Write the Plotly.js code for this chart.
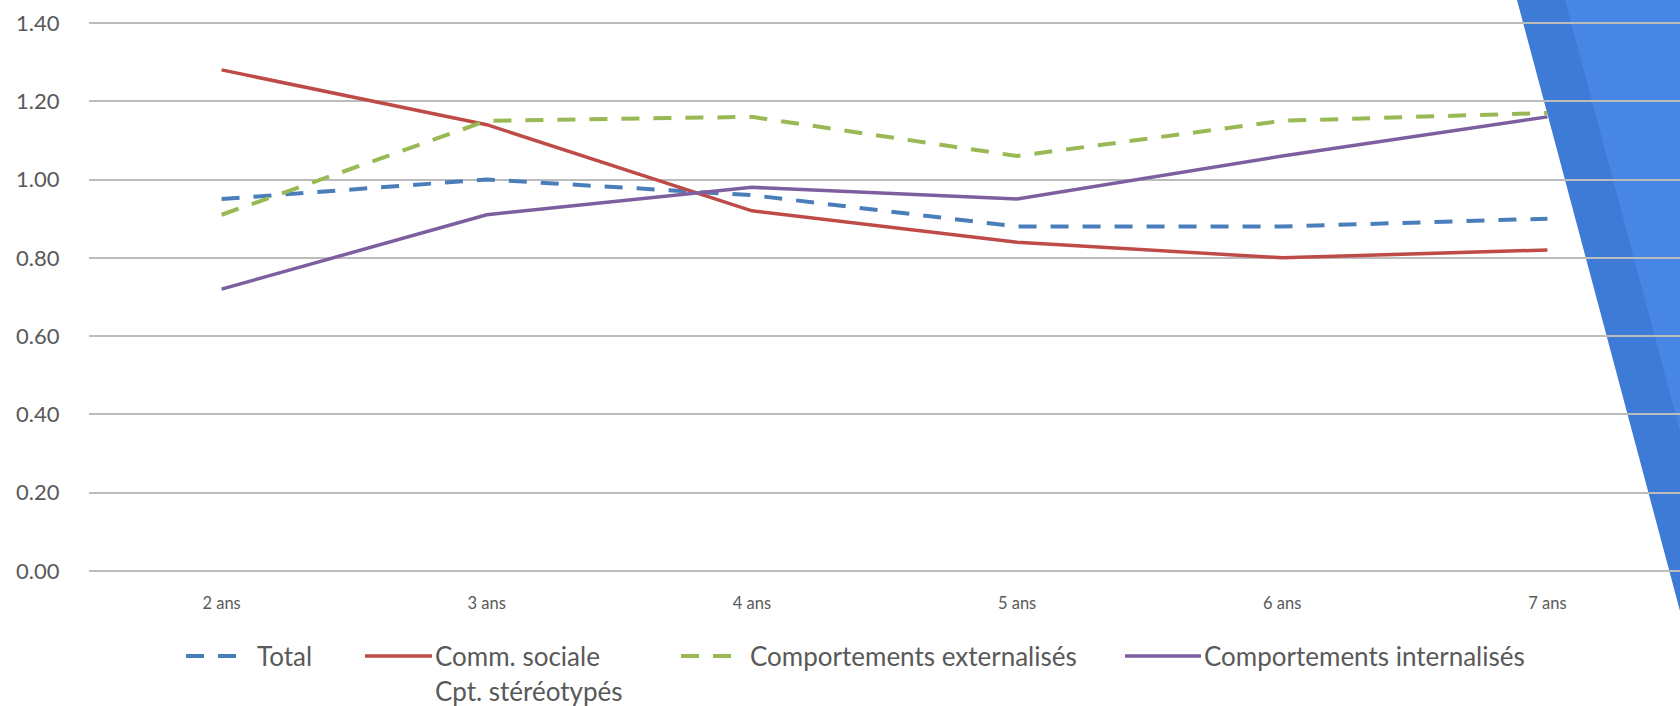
<!DOCTYPE html>
<html>
<head>
<meta charset="utf-8">
<script src="https://cdn.plot.ly/plotly-3.0.1.min.js"></script>
<style>
  html, body { margin: 0; padding: 0; background: #ffffff; }
  #chart { width: 1680px; height: 706px; }
</style>
</head>
<body>
<div id="chart"></div>
<script>
// ---- Data ----
const categories = ["2 ans", "3 ans", "4 ans", "5 ans", "6 ans", "7 ans"];
const seriesNames = ["Total", "Comm. sociale<br>Cpt. stéréotypés", "Comportements externalisés", "Comportements internalisés"];
const total        = [0.95, 1.00, 0.96, 0.88, 0.88, 0.90];
const commSociale  = [1.28, 1.14, 0.92, 0.84, 0.80, 0.82];
const externalises = [0.91, 1.15, 1.16, 1.06, 1.15, 1.17];
const internalises = [0.72, 0.91, 0.98, 0.95, 1.06, 1.16];
const yTicks = [0.0, 0.2, 0.4, 0.6, 0.8, 1.0, 1.2, 1.4];

// ---- Styles ----
const W = 1680, H = 706;
const M = { l: 89, r: 0, t: 19, b: 135 };
const PW = W - M.l - M.r, PH = H - M.t - M.b;
const px = x => (x - M.l) / PW;
const py = y => (H - M.b - y) / PH;

const styles = [
  { color: "#4a7ebb", dash: "18px,14px", width: 4 },
  { color: "#be4b48", dash: "solid",     width: 3.5 },
  { color: "#98b954", dash: "18px,14px", width: 4 },
  { color: "#7d5fa0", dash: "solid",     width: 3.5 }
];
const values = [total, commSociale, externalises, internalises];

const traces = values.map((v, i) => ({
  type: "scatter",
  mode: "lines",
  x: categories,
  y: v,
  name: seriesNames[i],
  line: { color: styles[i].color, dash: styles[i].dash, width: styles[i].width },
  showlegend: false,
  hoverinfo: "x+y+name"
}));

const font = "Lato, 'Open Sans', sans-serif";
const textColor = "#595959";

// Decorative blue slide shapes (right side)
const shapes = [
  { type: "path", xref: "paper", yref: "paper", layer: "below",
    path: `M ${px(1517)} ${py(0)} L ${px(1680)} ${py(0)} L ${px(1680)} ${py(611)} Z`,
    fillcolor: "#3e7bd6", line: { width: 0 } },
  { type: "path", xref: "paper", yref: "paper", layer: "below",
    path: `M ${px(1565)} ${py(0)} L ${px(1680)} ${py(0)} L ${px(1680)} ${py(431)} Z`,
    fillcolor: "#4886e6", line: { width: 0 } }
];

// Custom legend (Excel-like layout)
const legendRowY = 656;
const legendItems = [
  { sym: [186, 239], textX: 255 },
  { sym: [365, 432], textX: 433 },
  { sym: [681, 734], textX: 748 },
  { sym: [1125, 1201], textX: 1202 }
];
const annotations = [];
legendItems.forEach((it, i) => {
  shapes.push({
    type: "line", xref: "paper", yref: "paper",
    x0: px(it.sym[0]), x1: px(it.sym[1]), y0: py(legendRowY), y1: py(legendRowY),
    line: { color: styles[i].color, width: styles[i].width, dash: styles[i].dash }
  });
  const lines = seriesNames[i].split("<br>");
  lines.forEach((t, k) => {
    annotations.push({
      xref: "paper", yref: "paper", x: px(it.textX), y: py(legendRowY + k * 35),
      xanchor: "left", yanchor: "middle", showarrow: false, text: t,
      font: { family: font, size: 26, color: textColor }
    });
  });
});

const layout = {
  width: W, height: H,
  margin: M,
  paper_bgcolor: "#ffffff",
  plot_bgcolor: "rgba(0,0,0,0)",
  showlegend: false,
  xaxis: {
    type: "category",
    range: [-0.5, 5.5],
    showgrid: false, zeroline: false, showline: false,
    ticks: "outside", ticklen: 17, tickcolor: "rgba(0,0,0,0)",
    tickfont: { family: font, size: 16.5, color: textColor },
    fixedrange: true
  },
  yaxis: {
    range: [0, 1.41],
    tickmode: "array", tickvals: yTicks,
    ticktext: yTicks.map(v => v.toFixed(2)),
    showgrid: true, gridcolor: "#bcbcbc", gridwidth: 2,
    zeroline: true, zerolinecolor: "#bcbcbc", zerolinewidth: 2,
    showline: false,
    ticks: "outside", ticklen: 24, tickcolor: "rgba(0,0,0,0)",
    tickfont: { family: font, size: 22, color: textColor },
    fixedrange: true
  },
  shapes: shapes,
  annotations: annotations
};

Plotly.newPlot("chart", traces, layout, { displayModeBar: false, staticPlot: true });
</script>
</body>
</html>
